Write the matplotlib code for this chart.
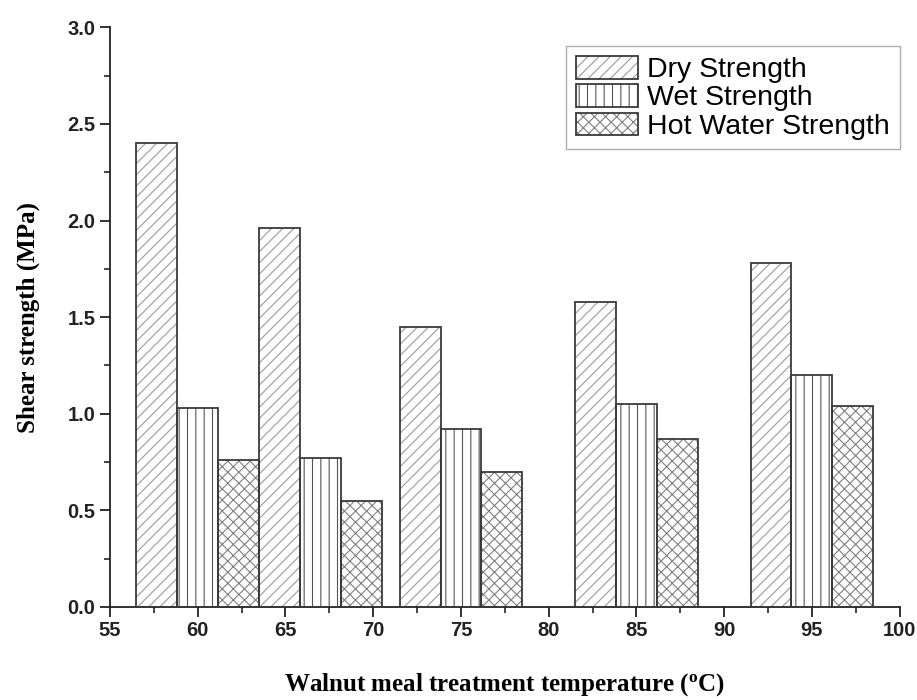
import matplotlib
matplotlib.use("Agg")
import matplotlib.pyplot as plt
import numpy as np
from matplotlib.legend_handler import HandlerTuple

temperatures = [60, 67, 75, 85, 95]
dry_strength = [2.40, 1.96, 1.45, 1.58, 1.78]
wet_strength = [1.03, 0.77, 0.92, 1.05, 1.20]
hot_water_strength = [0.76, 0.55, 0.70, 0.87, 1.04]
series_labels = ["Dry Strength", "Wet Strength", "Hot Water Strength"]

plt.rcParams['hatch.linewidth'] = 0.8

fig = plt.figure(figsize=(9.17, 7.0), dpi=100)
ax = fig.add_axes([0.12, 0.133, 0.861, 0.828])

width = 2.33
x = np.array(temperatures, dtype=float)
series = [dry_strength, wet_strength, hot_water_strength]
offsets = [-width, 0.0, width]
hatches = ['///', '||', 'xxx']
hatch_colors = ['#9a9a9a', '#555555', '#808080']
edge = '#3a3a3a'

handles = []
for vals, off, h, hc in zip(series, offsets, hatches, hatch_colors):
    b1 = ax.bar(x + off, vals, width, facecolor='white', edgecolor=hc,
                linewidth=0, hatch=h, zorder=2)
    b2 = ax.bar(x + off, vals, width, fill=False, edgecolor=edge,
                linewidth=1.3, zorder=3)
    handles.append((b1[0], b2[0]))

ax.set_xlim(55, 100)
ax.set_ylim(0, 3.0)
ax.set_xticks(np.arange(55, 101, 5))
ax.set_xticks(np.arange(57.5, 100, 5), minor=True)
ax.set_yticks(np.arange(0, 3.01, 0.5))
ax.set_yticks(np.arange(0.25, 3.0, 0.5), minor=True)
ax.set_yticklabels([f"{v:.1f}" for v in np.arange(0, 3.01, 0.5)])

for s in ['top', 'right']:
    ax.spines[s].set_visible(False)
for s in ['left', 'bottom']:
    ax.spines[s].set_linewidth(1.3)
    ax.spines[s].set_color('#222222')

ax.tick_params(axis='both', which='major', direction='out', length=7, width=1.3,
               colors='#222222', labelsize=14.5)
ax.tick_params(axis='both', which='minor', direction='out', length=4, width=1.2,
               colors='#222222')
for lab in ax.get_xticklabels() + ax.get_yticklabels():
    lab.set_fontfamily('Liberation Sans')
    lab.set_fontweight('bold')
    lab.set_color('#222222')

ax.set_ylabel('Shear strength (MPa)', fontfamily='Liberation Serif',
              fontweight='bold', fontsize=18, labelpad=20)
ax.set_xlabel(r'Walnut meal treatment temperature ($\mathregular{^o}$C)',
              fontfamily='Liberation Serif', fontweight='bold', fontsize=18,
              labelpad=22)

leg = ax.legend(handles, series_labels, loc='upper right',
                bbox_to_anchor=(1.0, 0.967),
                handler_map={tuple: HandlerTuple(ndivide=1, pad=0)},
                prop={'family': 'Liberation Sans', 'size': 20.5},
                frameon=True, fancybox=False, handlelength=2.2, handleheight=0.85,
                handletextpad=0.32, labelspacing=0.04, borderpad=0.33,
                borderaxespad=0.0)
leg.get_frame().set_edgecolor('#999999')
leg.get_frame().set_linewidth(1.0)

fig.savefig('out.png', dpi=100)
